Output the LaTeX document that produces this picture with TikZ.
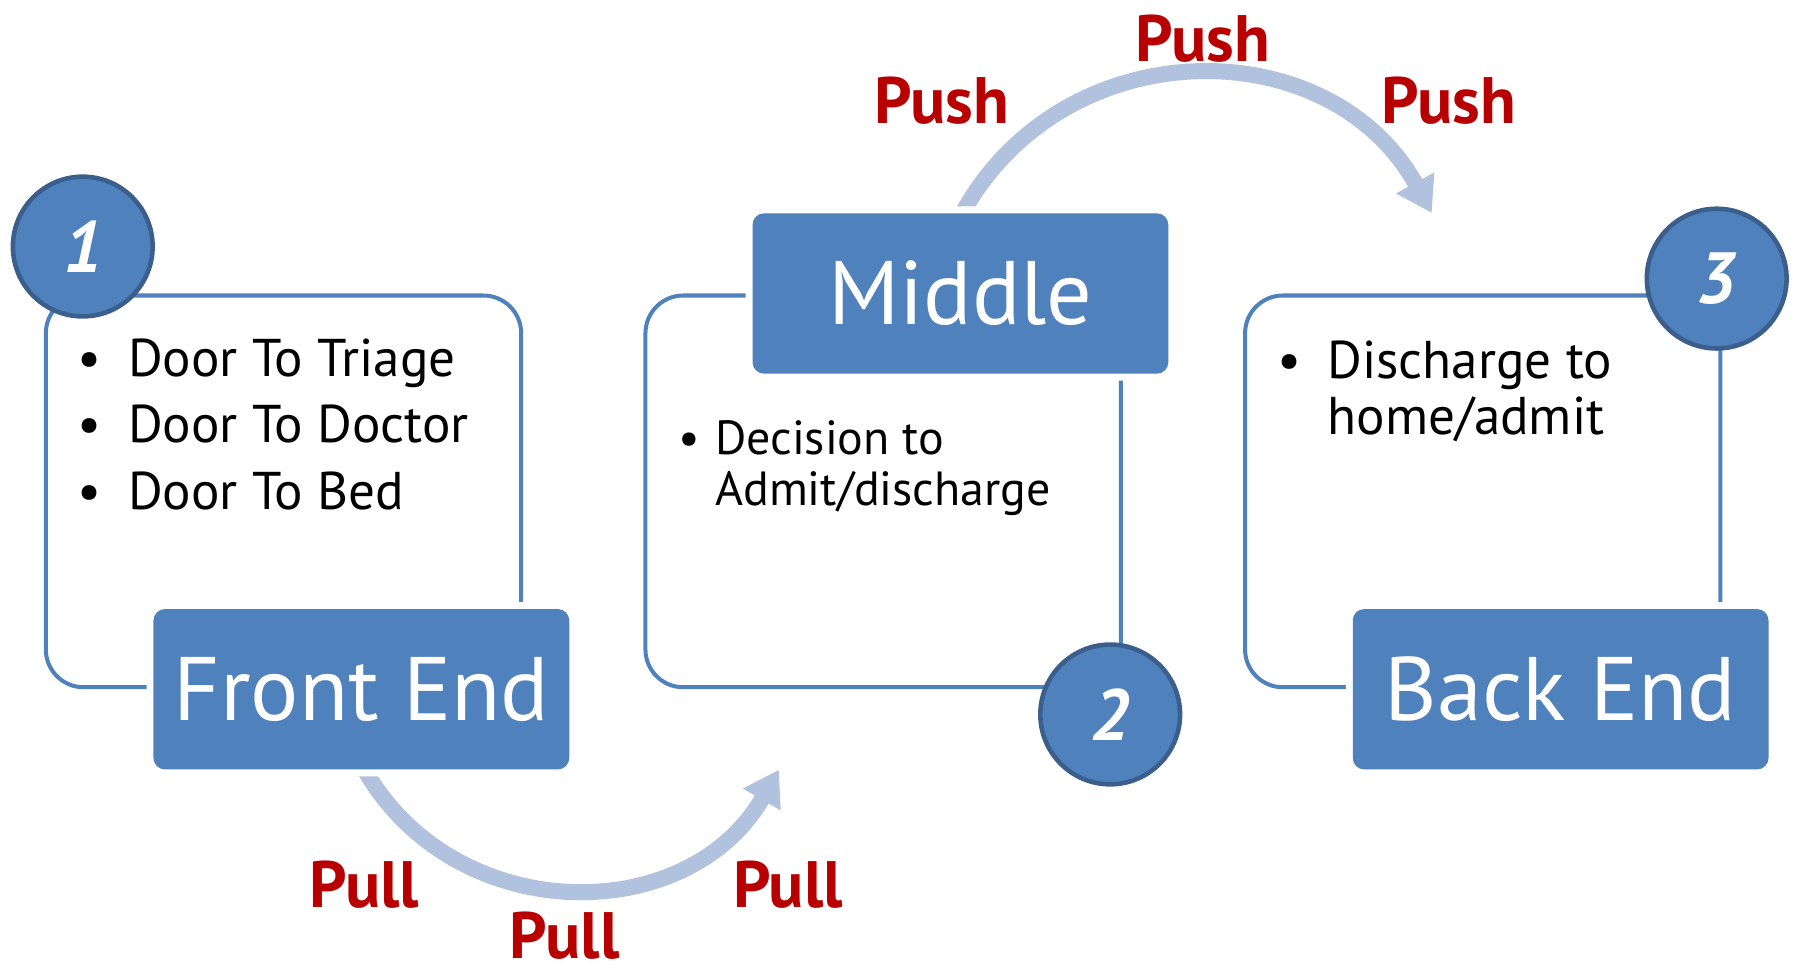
\documentclass[tikz,border=0pt]{standalone}
\usepackage{fontspec}
\setmainfont{PT Sans}
\usepackage{tikz}
\usetikzlibrary{arrows.meta,positioning,backgrounds}
\definecolor{officeblue}{HTML}{4F81BD}
\definecolor{badgeedge}{HTML}{3A5F8C}
\definecolor{flowblue}{HTML}{B0C2DE}
\definecolor{pushred}{HTML}{B80000}

\begin{document}
\begin{tikzpicture}[
    node distance=1.05cm,
    frame/.style={draw=officeblue, line width=0.035cm, rounded corners=0.33cm, minimum width=4.15cm, minimum height=3.42cm, inner sep=0pt},
    stage/.style={fill=officeblue, text=white, rounded corners=0.1cm, minimum width=3.63cm, minimum height=1.40cm, preaction={draw=white, line width=0.12cm}, font=\fontsize{22.4}{26}\selectfont},
    badge/.style={circle, fill=officeblue, draw=badgeedge, line width=0.04cm, minimum size=1.22cm, inner sep=0pt, text=white, font=\fontsize{18}{20}\selectfont\bfseries\itshape},
    bullets/.style={anchor=north west, inner sep=0pt},
    flow/.style={draw=flowblue, line width=0.14cm, -{Triangle[length=0.3cm, width=0.36cm]}},
    tag/.style={text=pushred, inner sep=0pt, font=\fontsize{16.3}{18}\selectfont\bfseries}
]
\useasboundingbox (0,0) rectangle (15.68,8.49);
\node[frame] (frame1) at (2.475,4.20) {};
\node[frame, right=of frame1] (frame2) {};
\node[frame, right=of frame2] (frame3) {};

\node[stage] (frontend) at ([xshift=0.68cm]frame1.south) {Front End};
\node[stage] (middle) at ([xshift=0.675cm]frame2.north) {Middle};
\node[stage] (backend) at ([xshift=0.68cm]frame3.south) {Back End};

\node[badge] (one) at ([xshift=0.34cm, yshift=0.41cm]frame1.north west) {1};
\node[badge] (two) at ([xshift=-0.11cm, yshift=-0.22cm]frame2.south east) {2};
\node[badge] (three) at ([xshift=-0.05cm, yshift=0.13cm]frame3.north east) {3};

\node[bullets, font=\fontsize{13.2}{16.5}\selectfont] (doorlist) at ([xshift=0.29cm, yshift=-0.31cm]frame1.north west)
  {\begin{tabular}{@{}p{0.44cm}@{}l@{}}
   \textbullet & Door To Triage\\
   \textbullet & Door To Doctor\\
   \textbullet & Door To Bed
   \end{tabular}};
\node[bullets, font=\fontsize{11.9}{12.6}\selectfont] (decisionlist) at ([xshift=0.30cm, yshift=-1.09cm]frame2.north west)
  {\begin{tabular}{@{}p{0.32cm}@{}l@{}}
   \textbullet & Decision to\\
   & Admit/discharge
   \end{tabular}};
\node[bullets, font=\fontsize{13.2}{14}\selectfont] (dischargelist) at ([xshift=0.29cm, yshift=-0.39cm]frame3.north west)
  {\begin{tabular}{@{}p{0.44cm}@{}l@{}}
   \textbullet & Discharge to\\
   & home/admit
   \end{tabular}};

\coordinate (pushtip) at (12.50,6.63);
\coordinate (pulltip) at (6.80,1.77);
\begin{scope}[on background layer]
\draw[flow] ([xshift=0.02cm]middle.north) to[bend left=61, looseness=1.15] (pushtip);
\draw[flow] ([xshift=0.03cm]frontend.south) to[bend right=60, looseness=1.13] (pulltip);
\end{scope}

\node[tag] (pushleft) at (8.22,7.61) {Push};
\node[tag] (pushtop) at (10.50,8.15) {Push};
\node[tag] (pushright) at (12.65,7.61) {Push};
\node[tag] (pullleft) at (3.18,0.77) {Pull};
\node[tag] (pullbottom) at (4.93,0.32) {Pull};
\node[tag] (pullright) at (6.88,0.77) {Pull};
\end{tikzpicture}
\end{document}
